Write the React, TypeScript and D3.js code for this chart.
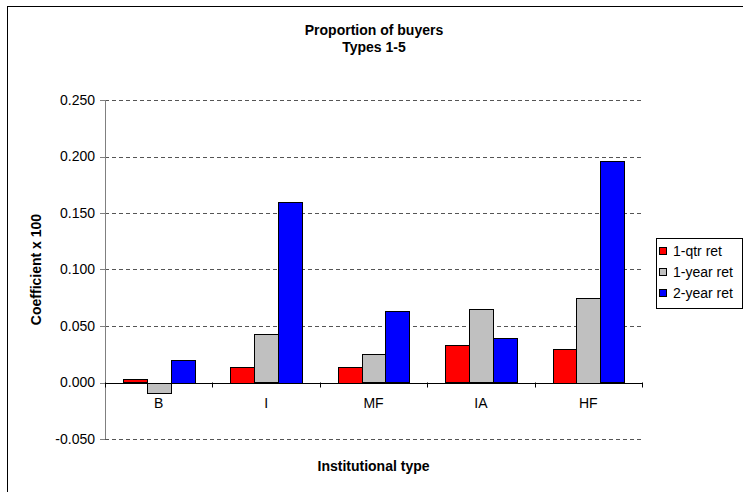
import React from 'react'
import * as d3 from 'd3'

const categories = ['B', 'I', 'MF', 'IA', 'HF']
const seriesNames = ['1-qtr ret', '1-year ret', '2-year ret']
const qtrRet = [0.003, 0.014, 0.014, 0.033, 0.030]
const yearRet = [-0.009, 0.0425, 0.025, 0.065, 0.075]
const twoYearRet = [0.020, 0.160, 0.063, 0.039, 0.196]
const yTicks = [-0.05, 0, 0.05, 0.1, 0.15, 0.2, 0.25]
const colors = ['#ff0000', '#c0c0c0', '#0000ff']

const W = 743
const H = 492
const font = '"Liberation Sans", Arial, sans-serif'
const fs = 14

// excel style label, plain hyphen for negatives
const fmt = (t: number) => t.toFixed(3)

export default function App() {
  const series = [qtrRet, yearRet, twoYearRet]

  // plot area
  const left = 105, right = 642, top = 100, bottom = 439

  const x = d3.scaleBand().domain(categories).range([left, right]).paddingInner(0).paddingOuter(0)
  const y = d3.scaleLinear().domain([-0.05, 0.25]).range([bottom, top])
  // 3 bars + 150% gap per category
  const inner = d3.scaleBand().domain(seriesNames).range([0, x.bandwidth()]).paddingInner(0).paddingOuter(0.75)

  const y0 = y(0)
  const boundaries = categories.map(c => x(c)!).concat([right])

  return (
    <svg width={W} height={H} style={{position: 'absolute', left: 0, top: 0}} fontFamily={font}>
      <rect x={0} y={0} width={W} height={H} fill="#fff" />
      <rect x={7.5} y={6.5} width={740} height={492} fill="none" stroke="#000" strokeWidth={1} />

      <text x={374} y={35} textAnchor="middle" fontSize={fs} fontWeight="bold">Proportion of buyers</text>
      <text x={374} y={52} textAnchor="middle" fontSize={fs} fontWeight="bold">Types 1-5</text>

      {/* gridlines */}
      {yTicks.filter(t => t !== 0).map(t => (
        <line key={t} x1={left} x2={right} y1={Math.round(y(t)) + 0.5} y2={Math.round(y(t)) + 0.5}
          stroke="#555" strokeDasharray="4,3" />
      ))}

      {/* y axis */}
      <line x1={left + 0.5} x2={left + 0.5} y1={top} y2={bottom} stroke="#808080" />
      {yTicks.map(t => (
        <g key={t}>
          <line x1={left - 5} x2={left} y1={Math.round(y(t)) + 0.5} y2={Math.round(y(t)) + 0.5} stroke="#808080" />
          <text x={left - 10} y={y(t)} dy="0.35em" textAnchor="end" fontSize={fs}>{fmt(t)}</text>
        </g>
      ))}

      {/* bars */}
      {categories.map((c, i) => (
        <g key={c}>
          {series.map((s, j) => {
            const v = s[i]
            const bx = x(c)! + inner(seriesNames[j])!
            const by = Math.min(y(v), y0)
            return (
              <rect key={j} x={Math.round(bx) + 0.5} y={Math.round(by) + 0.5}
                width={Math.round(inner.bandwidth())} height={Math.max(1, Math.round(Math.abs(y(v) - y0)))}
                fill={colors[j]} stroke="#000" strokeWidth={1} />
            )
          })}
        </g>
      ))}

      {/* x axis at zero */}
      <line x1={left} x2={right} y1={Math.round(y0) + 0.5} y2={Math.round(y0) + 0.5} stroke="#000" />
      {boundaries.map((b, i) => (
        <line key={i} x1={Math.round(b) + 0.5} x2={Math.round(b) + 0.5} y1={y0} y2={y0 + 5} stroke="#000" />
      ))}
      {categories.map(c => (
        <text key={c} x={x(c)! + x.bandwidth() / 2} y={y0 + 25} textAnchor="middle" fontSize={fs}>{c}</text>
      ))}

      <text x={(left + right) / 2} y={471} textAnchor="middle" fontSize={fs} fontWeight="bold">Institutional type</text>
      <text transform={`translate(41, ${(top + bottom) / 2}) rotate(-90)`} textAnchor="middle" fontSize={fs} fontWeight="bold">Coefficient x 100</text>

      {/* legend */}
      <rect x={656.5} y={238.5} width={86} height={70} fill="#fff" stroke="#000" />
      {seriesNames.map((n, j) => (
        <g key={n} transform={`translate(659, ${251 + j * 21})`}>
          <rect x={0.5} y={-3.5} width={7} height={7} fill={colors[j]} stroke="#000" />
          <text x={14} y={0} dy="0.35em" fontSize={fs}>{n}</text>
        </g>
      ))}
    </svg>
  )
}
